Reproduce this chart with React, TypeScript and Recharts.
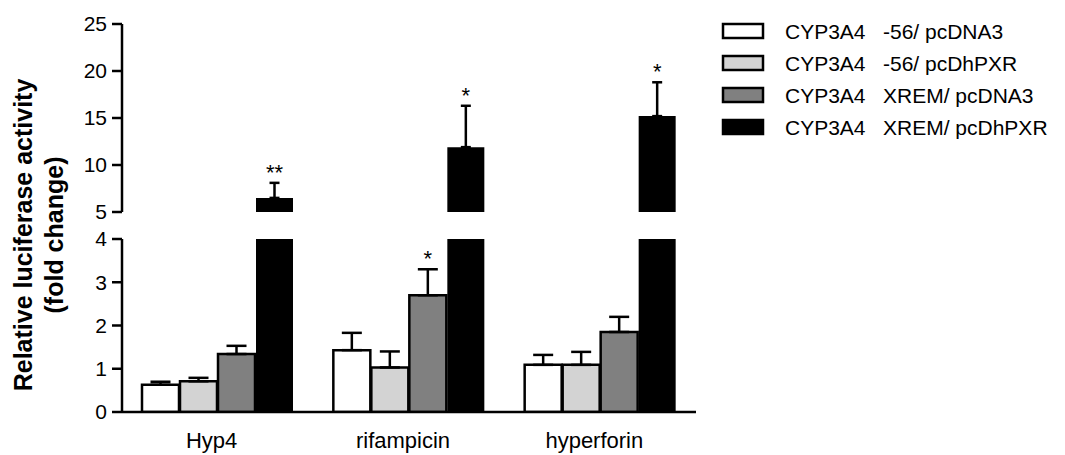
import { BarChart, Bar, XAxis, YAxis, ErrorBar, LabelList } from "recharts";

const categories = ["Hyp4", "rifampicin", "hyperforin"];

const seriesNames = [
    ["CYP3A4", "-56/ pcDNA3"],
    ["CYP3A4", "-56/ pcDhPXR"],
    ["CYP3A4", "XREM/ pcDNA3"],
    ["CYP3A4", "XREM/ pcDhPXR"],
];
const seriesFills = ["#ffffff", "#d3d3d3", "#808080", "#000000"];

const m56Pcdna = [0.63, 1.43, 1.09];
const m56PcdnaErr = [0.07, 0.4, 0.23];
const m56Pxr = [0.71, 1.03, 1.09];
const m56PxrErr = [0.08, 0.37, 0.3];
const xremPcdna = [1.34, 2.7, 1.85];
const xremPcdnaErr = [0.19, 0.6, 0.35];
const xremPxr = [6.5, 11.9, 15.2];
const xremPxrErr = [1.6, 4.4, 3.6];

const sigXremPcdna = ["", "*", ""];
const sigXremPxr = ["**", "*", "*"];

const upperTicks = [5, 10, 15, 20, 25];
const lowerTicks = [0, 1, 2, 3, 4];

const FONT = "'Liberation Sans', Arial, sans-serif";

const lowerData = categories.map((name, i) => ({
    name,
    a: m56Pcdna[i],
    aErr: [0, m56PcdnaErr[i]],
    b: m56Pxr[i],
    bErr: [0, m56PxrErr[i]],
    c: xremPcdna[i],
    cErr: [0, xremPcdnaErr[i]],
    cSig: sigXremPcdna[i],
    d: xremPxr[i],
}));

const upperData = categories.map((name, i) => ({
    name,
    a: null,
    b: null,
    c: null,
    d: xremPxr[i],
    dErr: [0, xremPxrErr[i]],
    dSig: sigXremPxr[i],
}));

// asterisk above the error cap; cap height derived from the bar's own pixel scale
const starLabel =
    (values: number[], errs: number[], base: number) => (props: any) => {
        const { x, y, width, height, value, index } = props;
        if (!value) return null;
        const pxPerUnit = Math.abs(height) / (values[index] - base);
        const capY = y - errs[index] * pxPerUnit;
        return (
            <text
                x={x + width / 2}
                y={capY - 3}
                textAnchor="middle"
                fontSize={22}
                fontFamily={FONT}
                fill="#000"
            >
                {value}
            </text>
        );
    };

const axisProps = {
    stroke: "#000",
    axisLine: { stroke: "#000", strokeWidth: 2.5 },
    tickLine: { stroke: "#000", strokeWidth: 2.5 },
    tickSize: 10,
    tickMargin: 5,
    tick: { fill: "#000", fontSize: 21, fontFamily: FONT },
};

const barCommon = {
    barSize: 37,
    stroke: "#000",
    strokeWidth: 2.5,
    isAnimationActive: false,
};

const App = () => {
    return (
        <div style={{ position: "relative", width: 1065, height: 455, background: "#fff" }}>
            <style>{`body{margin:0}`}</style>

            <div style={{ position: "absolute", left: 0, top: 0 }}>
                <BarChart
                    width={1065}
                    height={230}
                    data={upperData}
                    margin={{ top: 24, right: 369, bottom: 18, left: 82 }}
                    barGap={1}
                    barCategoryGap="10%"
                >
                    <XAxis dataKey="name" hide />
                    <YAxis
                        width={40}
                        domain={[5, 25]}
                        ticks={upperTicks}
                        allowDataOverflow
                        {...axisProps}
                    />
                    <Bar dataKey="a" fill={seriesFills[0]} {...barCommon} />
                    <Bar dataKey="b" fill={seriesFills[1]} {...barCommon} />
                    <Bar dataKey="c" fill={seriesFills[2]} {...barCommon} />
                    <Bar dataKey="d" fill={seriesFills[3]} {...barCommon} strokeWidth={0}>
                        <ErrorBar dataKey="dErr" direction="y" width={5} stroke="#000" strokeWidth={2.5} />
                        <LabelList dataKey="dSig" content={starLabel(xremPxr, xremPxrErr, 5)} />
                    </Bar>
                </BarChart>
            </div>

            <div style={{ position: "absolute", left: 0, top: 0 }}>
                <BarChart
                    width={1065}
                    height={455}
                    data={lowerData}
                    margin={{ top: 239, right: 369, bottom: 13, left: 82 }}
                    barGap={1}
                    barCategoryGap="10%"
                >
                    <XAxis
                        dataKey="name"
                        height={30}
                        stroke="#000"
                        axisLine={{ stroke: "#000", strokeWidth: 2.5 }}
                        tickLine={false}
                        tickSize={10}
                        tickMargin={10}
                        tick={{ fill: "#000", fontSize: 22, fontFamily: FONT, dx: -6 }}
                    />
                    <YAxis
                        width={40}
                        domain={[0, 4]}
                        ticks={lowerTicks}
                        allowDataOverflow
                        {...axisProps}
                    />
                    <Bar dataKey="a" fill={seriesFills[0]} {...barCommon}>
                        <ErrorBar dataKey="aErr" direction="y" width={10} stroke="#000" strokeWidth={2.5} />
                    </Bar>
                    <Bar dataKey="b" fill={seriesFills[1]} {...barCommon}>
                        <ErrorBar dataKey="bErr" direction="y" width={10} stroke="#000" strokeWidth={2.5} />
                    </Bar>
                    <Bar dataKey="c" fill={seriesFills[2]} {...barCommon}>
                        <ErrorBar dataKey="cErr" direction="y" width={10} stroke="#000" strokeWidth={2.5} />
                        <LabelList dataKey="cSig" content={starLabel(xremPcdna, xremPcdnaErr, 0)} />
                    </Bar>
                    <Bar dataKey="d" fill={seriesFills[3]} {...barCommon} strokeWidth={0} />
                </BarChart>
            </div>

            <svg
                width={1065}
                height={455}
                style={{ position: "absolute", left: 0, top: 0, pointerEvents: "none" }}
                fontFamily={FONT}
            >
                <g transform="translate(23,235) rotate(-90)">
                    <text textAnchor="middle" dominantBaseline="central" fontSize={25} fontWeight="bold">
                        Relative luciferase activity
                    </text>
                </g>
                <g transform="translate(54,235) rotate(-90)">
                    <text textAnchor="middle" dominantBaseline="central" fontSize={25} fontWeight="bold">
                        (fold change)
                    </text>
                </g>

                {seriesNames.map(([gene, construct], i) => {
                    const cy = 31 + i * 32;
                    return (
                        <g key={construct}>
                            <rect
                                x={723}
                                y={cy - 7}
                                width={40}
                                height={14}
                                fill={seriesFills[i]}
                                stroke="#000"
                                strokeWidth={2.5}
                            />
                            <text x={785} y={cy + 7.5} fontSize={21} fill="#000">
                                {gene}
                            </text>
                            <text x={883} y={cy + 7.5} fontSize={21} fill="#000">
                                {construct}
                            </text>
                        </g>
                    );
                })}
            </svg>
        </div>
    );
};

export default App;
